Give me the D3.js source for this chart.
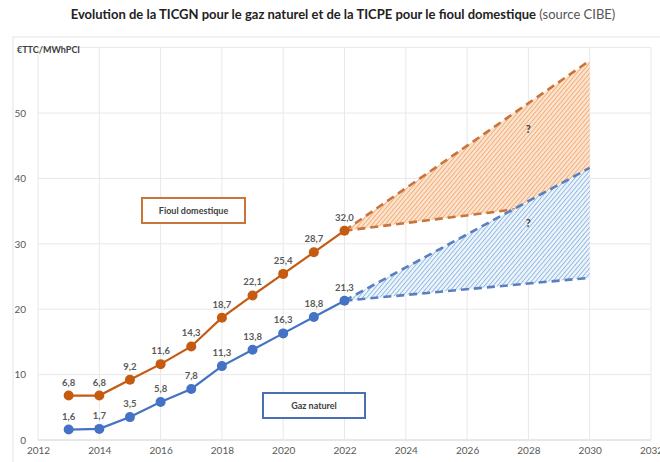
<!DOCTYPE html>
<html>
<head>
<meta charset="utf-8">
<script src="https://cdn.jsdelivr.net/npm/d3@7"></script>
<style>
  body { margin: 0; background: #fff; }
  svg { font-family: Lato, "Open Sans", sans-serif; }
</style>
</head>
<body>
<svg width="660" height="462"></svg>
<script>
// data
const years = [2013, 2014, 2015, 2016, 2017, 2018, 2019, 2020, 2021, 2022];
const fioul = [6.8, 6.8, 9.2, 11.6, 14.3, 18.7, 22.1, 25.4, 28.7, 32.0];
const gaz = [1.6, 1.7, 3.5, 5.8, 7.8, 11.3, 13.8, 16.3, 18.8, 21.3];
const projYears = [2022, 2030];
const fioulHigh = [32.0, 58.0];
const fioulLow = [32.0, 36.7];
const gazHigh = [21.3, 41.6];
const gazLow = [21.3, 24.8];
const xTicks = [2012, 2014, 2016, 2018, 2020, 2022, 2024, 2026, 2028, 2030, 2032];
const yTicks = [0, 10, 20, 30, 40, 50];
const yGrid = [0, 10, 20, 30, 40, 50, 60];

const orange = '#c55a11';
const blue = '#4472c4';

const svg = d3.select('svg');
const x = d3.scaleLinear().domain([2012, 2032]).range([38, 651]);
const y = d3.scaleLinear().domain([0, 60]).range([440, 47.6]);

// hatch patterns
const defs = svg.append('defs');
function hatch(id, bg, fg) {
  const p = defs.append('pattern')
    .attr('id', id)
    .attr('patternUnits', 'userSpaceOnUse')
    .attr('width', 3.3).attr('height', 3.3)
    .attr('patternTransform', 'rotate(40)');
  p.append('rect').attr('width', 3.3).attr('height', 3.3).attr('fill', bg);
  p.append('line').attr('x1', 0).attr('y1', 0).attr('x2', 0).attr('y2', 3.3)
    .attr('stroke', fg).attr('stroke-width', 1.8);
}
hatch('hatchO', '#fbe3ce', '#f1ac76');
hatch('hatchB', '#eef4fb', '#8cb7e1');

// title
const title = svg.append('text')
  .attr('x', 343).attr('y', 19)
  .attr('text-anchor', 'middle')
  .attr('font-size', 13).attr('fill', '#222');
title.append('tspan').attr('font-weight', 'bold')
  .text('Evolution de la TICGN pour le gaz naturel et de la TICPE pour le fioul domestique');
title.append('tspan').attr('fill', '#555').text(' (source CIBE)');

// chart frame
svg.append('rect')
  .attr('x', 13).attr('y', 37).attr('width', 660).attr('height', 440)
  .attr('fill', 'none').attr('stroke', '#e4e4e4').attr('stroke-width', 1);

// grid
svg.append('g').selectAll('line').data(yGrid).join('line')
  .attr('x1', x(2012)).attr('x2', x(2032))
  .attr('y1', d => y(d)).attr('y2', d => y(d))
  .attr('stroke', d => d === 0 ? '#d0d0d0' : '#e8e8e8').attr('stroke-width', 1);
svg.append('g').selectAll('line').data(xTicks).join('line')
  .attr('x1', d => x(d)).attr('x2', d => x(d))
  .attr('y1', y(0)).attr('y2', y(60))
  .attr('stroke', '#e8e8e8').attr('stroke-width', 1);

// axes labels
const yAxis = svg.append('g')
  .attr('transform', `translate(${x(2012) - 6},0)`)
  .call(d3.axisLeft(y).tickValues(yTicks).tickSize(0).tickPadding(6));
yAxis.select('.domain').remove();
yAxis.selectAll('text').attr('font-size', 10).attr('fill', '#595959')
  .attr('font-family', 'Lato, sans-serif');

const xAxis = svg.append('g')
  .attr('transform', `translate(0,${y(0) + 3})`)
  .call(d3.axisBottom(x).tickValues(xTicks).tickFormat(d3.format('d')).tickSize(0).tickPadding(4));
xAxis.select('.domain').remove();
xAxis.selectAll('text').attr('font-size', 10).attr('fill', '#595959')
  .attr('font-family', 'Lato, sans-serif');

svg.append('text')
  .attr('x', 17).attr('y', 53)
  .attr('font-size', 9).attr('font-weight', 'bold').attr('fill', '#404040')
  .text('€TTC/MWhPCI');

// projection areas
const proj = (a, b) => projYears.map((yr, i) => [yr, a[i], b[i]]);
const area = d3.area().x(d => x(d[0])).y0(d => y(d[2])).y1(d => y(d[1]));
const dash = d3.line().x(d => x(d[0])).y(d => y(d[1]));

svg.append('path').datum(proj(fioulHigh, fioulLow))
  .attr('d', area).attr('fill', 'url(#hatchO)');
svg.append('path').datum(projYears.map((yr, i) => [yr, fioulLow[i]]))
  .attr('d', dash).attr('fill', 'none')
  .attr('stroke', '#c8743a').attr('stroke-width', 2.6).attr('stroke-dasharray', '8,5');
svg.append('path').datum(proj(gazHigh, gazLow))
  .attr('d', area).attr('fill', 'url(#hatchB)');
svg.append('path').datum(projYears.map((yr, i) => [yr, fioulHigh[i]]))
  .attr('d', dash).attr('fill', 'none')
  .attr('stroke', '#c8743a').attr('stroke-width', 2.6).attr('stroke-dasharray', '8,5');
[gazHigh, gazLow].forEach(s => {
  svg.append('path').datum(projYears.map((yr, i) => [yr, s[i]]))
    .attr('d', dash).attr('fill', 'none')
    .attr('stroke', '#5a7fc0').attr('stroke-width', 2.6).attr('stroke-dasharray', '8,5');
});

svg.append('text').attr('x', x(2028)).attr('y', y(47)).attr('text-anchor', 'middle')
  .attr('font-size', 11).attr('font-weight', 'bold').attr('fill', '#404040').text('?');
svg.append('text').attr('x', x(2028)).attr('y', y(32.5)).attr('text-anchor', 'middle')
  .attr('font-size', 11).attr('font-weight', 'bold').attr('fill', '#404040').text('?');

// series
const fmt = v => d3.format('.1f')(v).replace('.', ',');
function series(vals, col) {
  const pts = years.map((yr, i) => [yr, vals[i]]);
  svg.append('path').datum(pts)
    .attr('d', d3.line().x(d => x(d[0])).y(d => y(d[1])))
    .attr('fill', 'none').attr('stroke', col).attr('stroke-width', 2.2);
  svg.append('g').selectAll('circle').data(pts).join('circle')
    .attr('cx', d => x(d[0])).attr('cy', d => y(d[1])).attr('r', 5)
    .attr('fill', col);
  svg.append('g').selectAll('text').data(pts).join('text')
    .attr('x', d => x(d[0])).attr('y', d => y(d[1]) - 10)
    .attr('text-anchor', 'middle')
    .attr('font-size', 9.5).attr('font-weight', 'bold').attr('fill', '#595959')
    .text(d => fmt(d[1]));
}
series(fioul, orange);
series(gaz, blue);

// legend boxes
function box(x0, y0, w, h, col, label) {
  svg.append('rect').attr('x', x0).attr('y', y0).attr('width', w).attr('height', h)
    .attr('fill', '#fff').attr('stroke', col).attr('stroke-width', 2);
  svg.append('text').attr('x', x0 + w / 2).attr('y', y0 + h / 2 + 3)
    .attr('text-anchor', 'middle').attr('font-size', 9).attr('font-weight', 'bold')
    .attr('fill', '#404040').text(label);
}
box(142, 198, 103, 25, '#c8743a', 'Fioul domestique');
box(263, 393, 102, 25, '#4a6fb5', 'Gaz naturel');
</script>
</body>
</html>
